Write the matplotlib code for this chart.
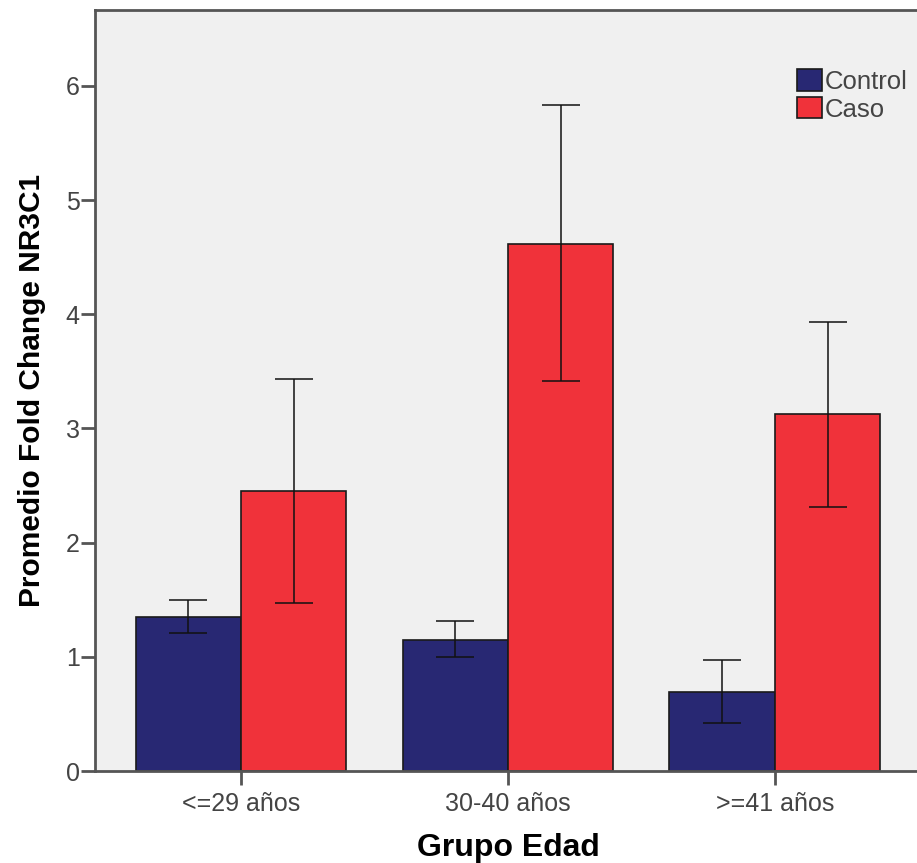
import numpy as np
import matplotlib
matplotlib.use("Agg")
import matplotlib.pyplot as plt

# data
groups = ["<=29 años", "30-40 años", ">=41 años"]
control_mean = [1.35, 1.15, 0.69]
control_lo = [1.21, 1.00, 0.42]
control_hi = [1.50, 1.31, 0.97]
caso_mean = [2.45, 4.62, 3.13]
caso_lo = [1.47, 3.42, 2.31]
caso_hi = [3.43, 5.83, 3.93]

plt.rcParams["font.family"] = ["Liberation Sans", "DejaVu Sans"]

fig = plt.figure(figsize=(9.17, 8.63), dpi=100)
ax = fig.add_axes([0.1036, 0.1066, 0.9019, 0.8818])
ax.set_facecolor("#f0f0f0")

x = np.arange(len(groups))
w = 0.395
ctrl_color = "#282873"
caso_color = "#f0323a"

ax.bar(x - w / 2, control_mean, w, color=ctrl_color, edgecolor="#1a1a1a",
       linewidth=1.2, label="Control", zorder=2)
ax.bar(x + w / 2, caso_mean, w, color=caso_color, edgecolor="#1a1a1a",
       linewidth=1.2, label="Caso", zorder=2)

def add_errors(xpos, mean, lo, hi):
    mean = np.array(mean)
    yerr = [mean - np.array(lo), np.array(hi) - mean]
    ax.errorbar(xpos, mean, yerr=yerr, fmt="none", ecolor="#111111",
                elinewidth=1.1, capsize=13.5, capthick=1.1, zorder=3)

add_errors(x - w / 2, control_mean, control_lo, control_hi)
add_errors(x + w / 2, caso_mean, caso_lo, caso_hi)

ax.set_xlim(-0.547, 2.551)
ax.set_ylim(0, 6.665)
ax.set_yticks([0, 1, 2, 3, 4, 5, 6])
ax.set_xticks(x)
ax.set_xticklabels(groups)

for s in ax.spines.values():
    s.set_color("#555555")
    s.set_linewidth(2)

ax.tick_params(axis="y", length=10, width=2, color="#555555",
               labelsize=18, labelcolor="#444444", pad=1)
ax.tick_params(axis="x", length=10, width=2, color="#555555",
               labelsize=18, labelcolor="#444444", pad=5)

ax.set_xlabel("Grupo Edad", fontsize=23, fontweight="bold", labelpad=12)
ax.set_ylabel("Promedio Fold Change NR3C1", fontsize=21.5, fontweight="bold",
              labelpad=14)

leg = ax.legend(loc="upper left", bbox_to_anchor=(0.849, 0.922), frameon=False,
                fontsize=18.5, handlelength=0.97, handleheight=0.9,
                handletextpad=0.12, labelspacing=0.12, borderaxespad=0,
                borderpad=0)
for t in leg.get_texts():
    t.set_color("#444444")

fig.savefig("out.png", dpi=100)
